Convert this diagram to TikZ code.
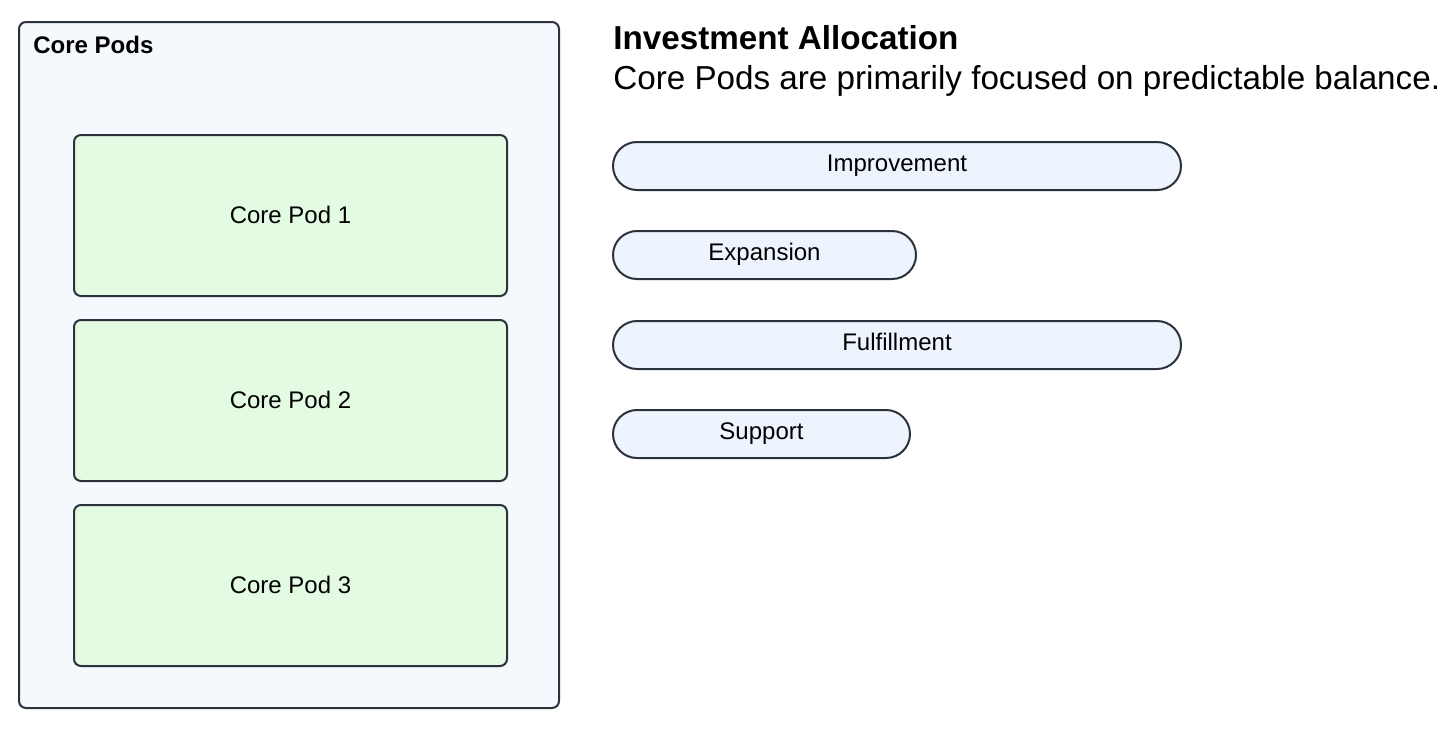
\documentclass[tikz,border=0pt]{standalone}
\usepackage{fontspec}
\setmainfont{Liberation Sans}
\definecolor{strokec}{HTML}{2B323B}
\definecolor{outerfill}{HTML}{F5F8FD}
\definecolor{podfill}{HTML}{E3FAE3}
\definecolor{pillfill}{HTML}{EDF4FE}
\tikzset{
  outerbox/.style={draw=strokec, fill=outerfill, line width=1pt, rounded corners=3.5pt},
  podbox/.style={draw=strokec, fill=podfill, line width=1pt, rounded corners=3.5pt},
  pillbox/.style={draw=strokec, fill=pillfill, line width=1pt, rounded corners=12pt},
  lbl/.style={font=\fontsize{12pt}{14pt}\selectfont, text=black, inner sep=0pt, anchor=base},
}
\begin{document}
\begin{tikzpicture}[x=0.5pt, y=-0.5pt]
\useasboundingbox (0,0) rectangle (1456,729);
% outer container
\draw[outerbox] (19,22) rectangle (559,708);
\node[lbl, font=\fontsize{12pt}{14pt}\selectfont\bfseries, anchor=base west] (ctitle) at (33,53) {Core Pods};
% pods
\draw[podbox] (74,135) rectangle (507,296);
\node[lbl] (pod1) at (290.5,223) {Core Pod 1};
\draw[podbox] (74,320) rectangle (507,481);
\node[lbl] (pod2) at (290.5,408) {Core Pod 2};
\draw[podbox] (74,505) rectangle (507,666);
\node[lbl] (pod3) at (290.5,593) {Core Pod 3};
% heading
\node[anchor=base west, inner sep=0pt, font=\fontsize{16.6pt}{19pt}\selectfont\bfseries] (head) at (613,49) {Investment Allocation};
\node[anchor=base west, inner sep=0pt, font=\fontsize{16.6pt}{19pt}\selectfont] (sub) at (613,89) {Core Pods are primarily focused on predictable balance.};
% pills
\draw[pillbox] (613,142) rectangle (1181,190);
\node[lbl] (imp) at (897,171.5) {Improvement};
\draw[pillbox] (613,231) rectangle (916,279);
\node[lbl] (exp) at (764.5,260.5) {Expansion};
\draw[pillbox] (613,321) rectangle (1181,369);
\node[lbl] (ful) at (897,350.5) {Fulfillment};
\draw[pillbox] (613,410) rectangle (910,458);
\node[lbl] (sup) at (761.5,439.5) {Support};
\end{tikzpicture}
\end{document}
